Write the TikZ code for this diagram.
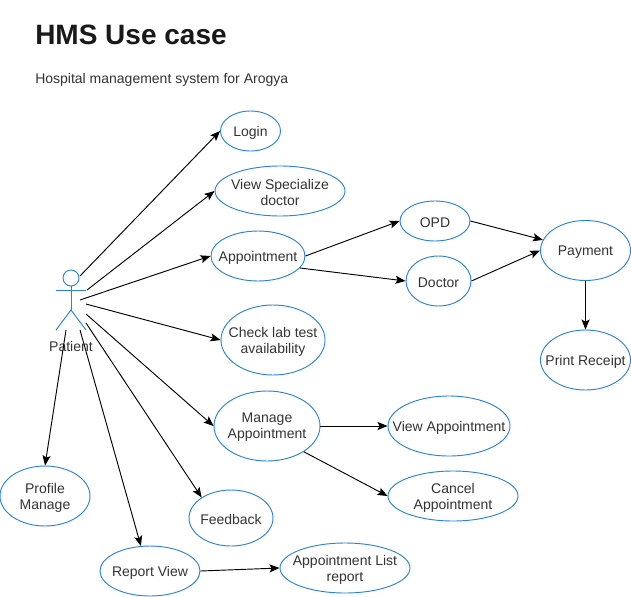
\documentclass[tikz,border=0pt]{standalone}
\usepackage{fontspec}
\setmainfont{Liberation Sans}
\usetikzlibrary{shapes.geometric,arrows.meta}
\definecolor{ucblue}{HTML}{2A82DA}
\definecolor{uctxt}{HTML}{333333}
\tikzset{
	usecase/.style={shape=ellipse,draw=ucblue,line width=0.7pt,inner sep=0pt},
	ucsize/.style 2 args={minimum width=#1*0.75pt,minimum height=#2*0.75pt},
	uctext/.style={text=uctxt,font=\fontsize{10.5}{12}\selectfont,align=center,yshift=-1.2pt},
	link/.style={-{Stealth[length=7.5pt,width=6pt,inset=1.5pt]},line width=0.7pt,black},
	actorline/.style={draw=ucblue,line width=0.7pt}
}
\begin{document}
\begin{tikzpicture}[x=0.75pt,y=-0.75pt]
	\useasboundingbox (0,0) rectangle (631,596);

	\node[anchor=west,font=\fontsize{21}{25}\selectfont\bfseries,text=black!90,inner sep=0pt] (title) at (35,35) {HMS Use case};
	\node[anchor=west,text=uctxt,font=\fontsize{10.5}{12}\selectfont,inner sep=0pt] (subtitle) at (35,79.5) {Hospital management system for Arogya};

	% actor
	\node[shape=circle,actorline,inner sep=0pt,minimum size=12pt] (head) at (71,278) {};
	\coordinate (hip) at (71,310);
	\coordinate (handl) at (56,290);
	\coordinate (handr) at (86,290);
	\coordinate (footl) at (56,330);
	\coordinate (footr) at (86,330);
	\draw[actorline] (head.south) -- (hip);
	\draw[actorline] (handl) -- (handr);
	\draw[actorline] (footl) -- (hip) -- (footr);
	\node[uctext,inner sep=0pt,yshift=1.2pt] (patient) at (71,346) {Patient};

	% use cases
	\node[usecase,ucsize={60}{40},label={[uctext]center:Login}] (login) at (250.5,131) {};
	\node[usecase,ucsize={130}{50},label={[uctext]center:View Specialize\\doctor}] (view) at (280,191) {};
	\node[usecase,ucsize={94}{50},label={[uctext]center:Appointment}] (appt) at (258,256) {};
	\node[usecase,ucsize={104}{70},label={[uctext]center:Check lab test\\availability}] (lab) at (273,340) {};
	\node[usecase,ucsize={106}{70},label={[uctext]center:Manage\\Appointment}] (manage) at (267,426) {};
	\node[usecase,ucsize={90}{60},label={[uctext]center:Profile\\Manage}] (profile) at (45,496) {};
	\node[usecase,ucsize={84}{56},label={[uctext]center:Feedback}] (feedback) at (231,518) {};
	\node[usecase,ucsize={100}{50},label={[uctext]center:Report View}] (report) at (150,571) {};
	\node[usecase,ucsize={130}{50},label={[uctext]center:Appointment List\\report}] (list) at (345,568) {};
	\node[usecase,ucsize={70}{40},label={[uctext]center:OPD}] (opd) at (435,221) {};
	\node[usecase,ucsize={65}{50},label={[uctext]center:Doctor}] (doctor) at (438.5,281) {};
	\node[usecase,ucsize={90}{60},label={[uctext]center:Payment}] (payment) at (585.5,250.5) {};
	\node[usecase,ucsize={90}{60},label={[uctext]center:Print Receipt}] (receipt) at (585.5,360) {};
	\node[usecase,ucsize={122}{60},label={[uctext]center:View Appointment}] (viewappt) at (449,426) {};
	\node[usecase,ucsize={130}{50},label={[uctext]center:Cancel\\Appointment}] (cancel) at (453,496) {};

	% free ends at the actor
	\coordinate (p1) at (80,276);
	\coordinate (p2) at (87,290);
	\coordinate (p3) at (80,300);
	\coordinate (p4) at (86,304);
	\coordinate (p5) at (86,314);
	\coordinate (p6) at (86,323);
	\coordinate (p7) at (80,330);
	\coordinate (p8) at (66,330);

	\draw[link] (p1) -- (login.west);
	\draw[link] (p2) -- (view.west);
	\draw[link] (p3) -- (appt.west);
	\draw[link] (p4) -- (lab.west);
	\draw[link] (p5) -- (manage.west);
	\draw[link] (p6) -- (feedback.145);
	\draw[link] (p7) -- (report.110);
	\draw[link] (p8) -- (profile.north);

	\draw[link] (appt.east) -- (opd.west);
	\draw[link] (appt.-16) -- (doctor.west);
	\draw[link] (opd.east) -- (payment.166);
	\draw[link] (doctor.east) -- (payment.west);
	\draw[link] (payment.south) -- (receipt.north);
	\draw[link] (manage.east) -- (viewappt.west);
	\draw[link] (manage.-35) -- (cancel.west);
	\draw[link] (report.east) -- (list.west);
\end{tikzpicture}
\end{document}
